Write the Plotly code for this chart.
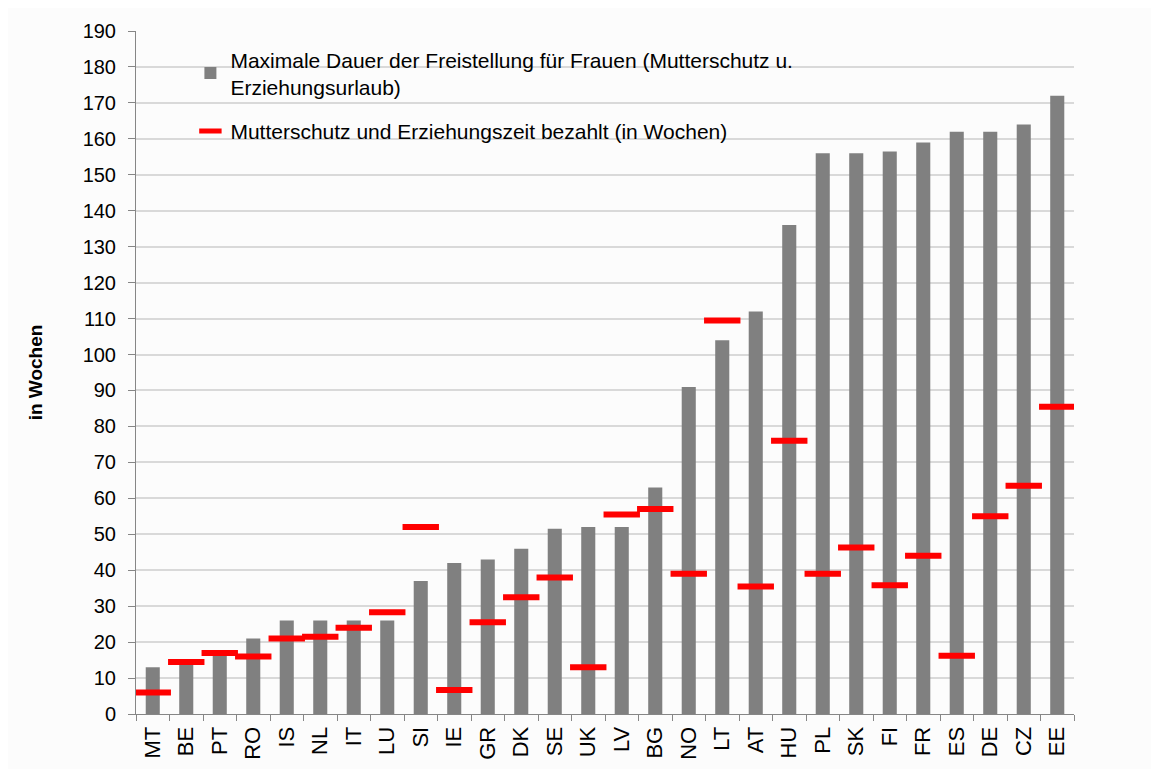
import plotly.graph_objects as go

countries = ["MT", "BE", "PT", "RO", "IS", "NL", "IT", "LU", "SI", "IE", "GR", "DK", "SE", "UK",
             "LV", "BG", "NO", "LT", "AT", "HU", "PL", "SK", "FI", "FR", "ES", "DE", "CZ", "EE"]
max_dauer = [13, 14, 17, 21, 26, 26, 26, 26, 37, 42, 43, 46, 51.5, 52,
             52, 63, 91, 104, 112, 136, 156, 156, 156.5, 159, 162, 162, 164, 172]
bezahlt = [6, 14.5, 17, 16, 21, 21.5, 24, 28.3, 52, 6.7, 25.5, 32.5, 38, 13,
           55.5, 57, 39, 109.5, 35.5, 76, 39, 46.3, 35.8, 44, 16.2, 55, 63.5, 85.5]
y_ticks = list(range(0, 191, 10))

name_bar = "Maximale Dauer der Freistellung für Frauen (Mutterschutz u.<br>Erziehungsurlaub)"
name_line = "Mutterschutz und Erziehungszeit bezahlt (in Wochen)"

fig = go.Figure()
fig.add_trace(go.Bar(x=countries, y=max_dauer, name=name_bar, legendgroup="a",
                     marker=dict(color="#808080", line=dict(width=0)), width=0.42))
fig.add_trace(go.Scatter(x=countries, y=bezahlt, name=name_line, mode="markers", legendgroup="b",
                         marker=dict(symbol="line-ew", size=26, color="#ff0000",
                                     line=dict(color="#ff0000", width=6))))

font = "Liberation Sans, Arial, sans-serif"
fig.update_layout(
    width=1151, height=761,
    margin=dict(l=128, r=85, t=18, b=55),
    paper_bgcolor="#fcfcfc", plot_bgcolor="#fcfcfc",
    font=dict(family=font, size=19, color="#000000"),
    showlegend=True,
    legend=dict(x=0.058, y=0.988, xanchor="left", yanchor="top",
                bgcolor="rgba(0,0,0,0)", font=dict(size=21),
                traceorder="grouped", tracegroupgap=14, itemwidth=30),
)
fig.update_xaxes(range=[-0.5, len(countries) - 0.5], autorange=False, automargin=False,
                 showline=True, linecolor="#868686", linewidth=1,
                 ticks="outside", tickson="boundaries", ticklen=6, tickcolor="#868686",
                 tickangle=-90, showgrid=False, tickfont=dict(size=22),
                 ticklabelstandoff=3)
fig.update_yaxes(range=[0, 190], tickvals=y_ticks, showline=True, linecolor="#868686", linewidth=1,
                 ticks="outside", ticklen=7, tickcolor="#868686",
                 showgrid=True, gridcolor="#d9d9d9", gridwidth=1.5, zeroline=False,
                 tickfont=dict(size=20), ticklabelstandoff=8,
                 title=dict(text="<b>in Wochen</b>", font=dict(size=19), standoff=34))

fig.write_html("out.html")
